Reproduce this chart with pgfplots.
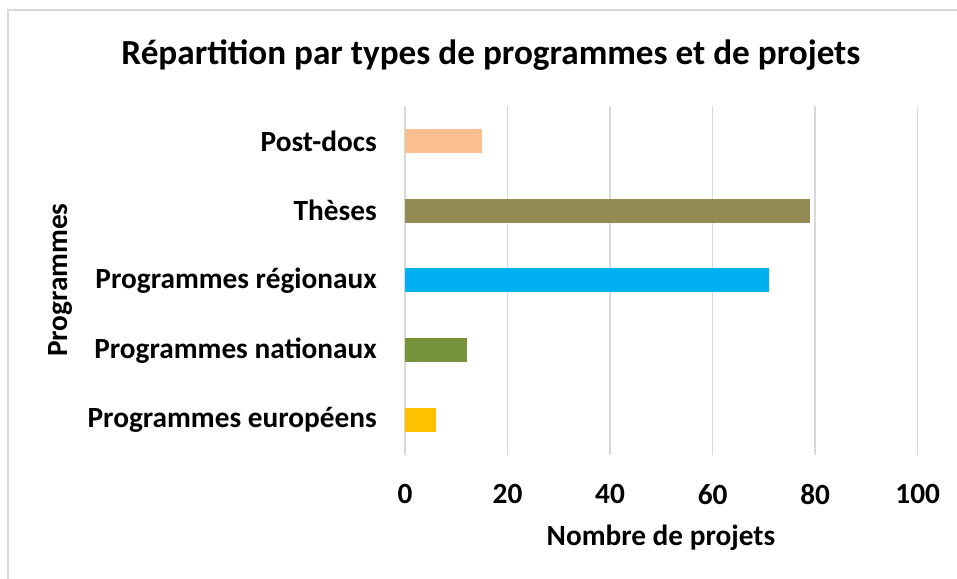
\documentclass[border=0pt]{standalone}
\usepackage{fontspec}
\setmainfont{Carlito}
\usepackage{pgfplots}
\pgfplotsset{compat=1.18}
\definecolor{cpost}{HTML}{F9BF8F}
\definecolor{cthese}{HTML}{948A54}
\definecolor{creg}{HTML}{00B0F0}
\definecolor{cnat}{HTML}{77933C}
\definecolor{ceur}{HTML}{FFC000}
\definecolor{gridc}{HTML}{D9D9D9}
\begin{document}
\begin{tikzpicture}[x=1bp,y=1bp]
\useasboundingbox (0,0) rectangle (957,579);
\draw[gridc, line width=2bp] (8.3,-20) -- (8.3,568.5) -- (990,568.5);
\begin{axis}[
  at={(405bp,124bp)}, anchor=south west,
  scale only axis, width=512.7bp, height=349bp,
  xmin=0, xmax=100, ymin=-0.5, ymax=4.5,
  xtick={0,20,...,100},
  ytick={0,1,2,3,4},
  yticklabels={Programmes européens,Programmes nationaux,Programmes régionaux,Thèses,Post-docs},
  axis line style={draw=none},
  major tick length=0pt,
  xmajorgrids, grid style={gridc, line width=1.5bp},
  /pgf/number format/assume math mode=true,
  tick label style={font=\fontsize{29.3bp}{35bp}\selectfont\bfseries},
  xticklabel style={anchor=north, inner sep=0pt, yshift=-29bp},
  yticklabel style={anchor=east, inner sep=0pt, xshift=-28bp},
  title={Répartition par types de programmes et de projets},
  title style={font=\fontsize{35.2bp}{42bp}\selectfont\bfseries, at={(axis description cs:0.1677,1.129)}, anchor=center},
  xlabel={Nombre de projets},
  xlabel style={font=\fontsize{29.3bp}{35bp}\selectfont\bfseries, at={(axis description cs:0.4993,-0.2378)}, anchor=center},
  ylabel={Programmes},
  ylabel style={font=\fontsize{29.3bp}{35bp}\selectfont\bfseries, at={(axis description cs:-0.671,0.501)}, anchor=center, rotate=0},
  xbar, bar width=24bp,
]
\addplot[xbar, bar shift=0pt, fill=ceur, draw=none] coordinates {(6,0)};
\addplot[xbar, bar shift=0pt, fill=cnat, draw=none] coordinates {(12,1)};
\addplot[xbar, bar shift=0pt, fill=creg, draw=none] coordinates {(71,2)};
\addplot[xbar, bar shift=0pt, fill=cthese, draw=none] coordinates {(79,3)};
\addplot[xbar, bar shift=0pt, fill=cpost, draw=none] coordinates {(15,4)};
\end{axis}
\end{tikzpicture}
\end{document}
